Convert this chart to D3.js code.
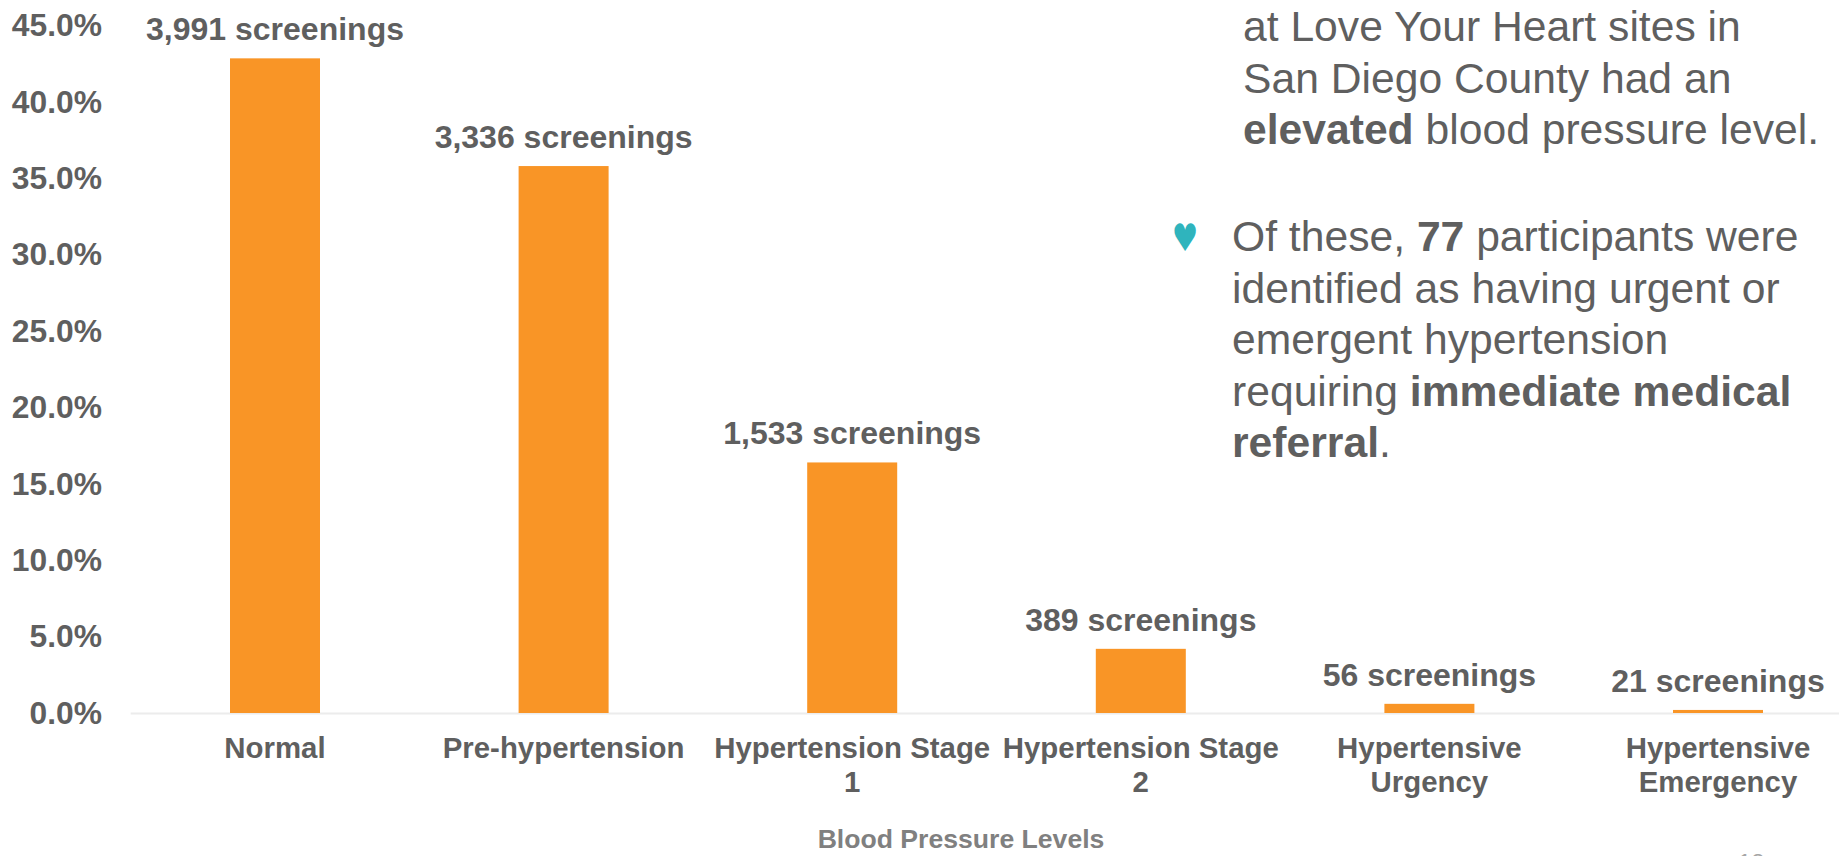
<!DOCTYPE html>
<html><head><meta charset="utf-8">
<style>html,body{margin:0;padding:0;background:#fff;overflow:hidden}svg{display:block}text{font-family:"Liberation Sans",Arial,sans-serif}</style>
<script src="https://cdnjs.cloudflare.com/ajax/libs/d3/7.8.5/d3.min.js"></script></head><body>
<script>
const categories=[["Normal"],["Pre-hypertension"],["Hypertension Stage","1"],["Hypertension Stage","2"],["Hypertensive","Urgency"],["Hypertensive","Emergency"]];
const percentages=[42.85,35.8,16.4,4.2,0.6,0.2];
const dataLabels=["3,991 screenings","3,336 screenings","1,533 screenings","389 screenings","56 screenings","21 screenings"];
const yTicks=[0,5,10,15,20,25,30,35,40,45];
const axisTitle="Blood Pressure Levels";
const noteLines=[
 [[ "at Love Your Heart sites in",0]],
 [[ "San Diego County had an",0]],
 [[ "elevated",1],[" blood pressure level.",0]]];
const noteLines2=[
 [["Of these, ",0],["77",1],[" participants were",0]],
 [["identified as having urgent or",0]],
 [["emergent hypertension",0]],
 [["requiring ",0],["immediate medical",1]],
 [["referral",1],[".",0]]];
const W=1839,H=856;
const svg=d3.select("body").append("svg").attr("width",W).attr("height",H);
const x=d3.scaleBand().domain(d3.range(6)).range([130.7,1862.3]);
const y=d3.scaleLinear().domain([0,45]).range([713,25.5]);
const barW=90,grey="#5f5f5f";
svg.append("line").attr("x1",x.range()[0]).attr("x2",x.range()[1]).attr("y1",y(0)+0.5).attr("y2",y(0)+0.5).attr("stroke","#ececec").attr("stroke-width",2);
const cx=i=>x(i)+x.bandwidth()/2;
svg.selectAll("rect.bar").data(percentages).join("rect").attr("class","bar")
 .attr("x",(d,i)=>cx(i)-barW/2).attr("width",barW).attr("y",d=>y(d)).attr("height",d=>y(0)-y(d)).attr("fill","#f99526");
const yAxis=d3.axisLeft(y).tickValues(yTicks).tickFormat(d=>d.toFixed(1)+"%").tickSize(0).tickPadding(0);
const yg=svg.append("g").attr("transform","translate(102,0)").call(yAxis);
yg.select(".domain").remove();
yg.selectAll("text").attr("font-size",31.8).attr("font-weight","bold").attr("fill",grey).style("font-family","Liberation Sans");
svg.selectAll("text.dl").data(dataLabels).join("text").attr("class","dl")
 .attr("x",(d,i)=>cx(i)).attr("y",(d,i)=>y(percentages[i])-18).attr("text-anchor","middle")
 .attr("font-size",32).attr("font-weight","bold").attr("fill",grey).text(d=>d);
const cat=svg.selectAll("text.cat").data(categories).join("text").attr("class","cat")
 .attr("x",(d,i)=>cx(i)).attr("y",758).attr("text-anchor","middle").attr("font-size",29.4).attr("font-weight","bold").attr("fill",grey);
cat.selectAll("tspan").data(d=>d).join("tspan").attr("x",function(){return d3.select(this.parentNode).attr("x")}).attr("dy",(d,i)=>i?34:0).text(d=>d);
svg.append("text").attr("x",961).attr("y",848).attr("text-anchor","middle").attr("font-size",26.6).attr("font-weight","bold").attr("fill","#808080").text(axisTitle);
function para(lines,xx,y0){lines.forEach((l,i)=>{const t=svg.append("text").attr("x",xx).attr("y",y0+i*51.6).attr("font-size",42.65).attr("fill",grey);
 l.forEach(r=>t.append("tspan").attr("font-weight",r[1]?"bold":"normal").style("white-space","pre").text(r[0]));});}
para(noteLines,1243,41);
para(noteLines2,1232,251);
svg.append("text").attr("transform","translate(1185,251) scale(0.78,1)").attr("text-anchor","middle").attr("font-size",38).attr("fill","#2fb4bd").style("font-family","DejaVu Sans").text("♥");
svg.append("text").attr("x",1738).attr("y",871).attr("font-size",24).attr("fill","#a6a6a6").text("18");
</script></body></html>
